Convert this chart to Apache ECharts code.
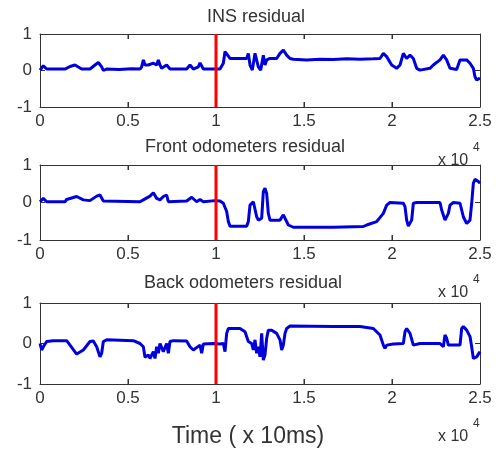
<!DOCTYPE html>
<html>
<head>
<meta charset="utf-8">
<script src="https://cdn.jsdelivr.net/npm/echarts@6/dist/echarts.min.js"></script>
<style>html,body{margin:0;padding:0;background:#fff;}#c{width:500px;height:456px;}</style>
</head>
<body>
<div id="c"></div>
<script>
// ---- data (time in samples, residual values) ----
var titles = ['INS residual', 'Front odometers residual', 'Back odometers residual'];
var xTicks = ['0', '0.5', '1', '1.5', '2', '2.5'];
var yTicks = ['-1', '0', '1'];
var xTickVals = [5000, 10000, 15000, 20000];
var yTickVals = [0];
var changeTime = 10000;

var insX = [0,189,379,1420,1705,1989,2367,2841,3125,3314,3504,3598,3788,4500,5200,5682,5777,5871,5966,6155,6440,6629,6724,6818,6913,7197,7386,8333,8523,8712,8996,9091,9280,9943,10227,10417,10511,10606,10795,11364,11742,11837,11932,12064,12216,12311,12405,12538,12689,12784,12879,13068,13447,13636,13826,14015,14205,14394,15152,15909,16667,17424,18182,18939,19318,19508,19697,19981,20265,20455,20644,20833,21023,21212,21402,21591,22159,22348,22727,22917,23106,23295,23674,23864,24242,24432,24621,24716,24811,25000];
var insY = [0.01,0.13,0.04,0.04,0.11,0.15,0.04,0.04,0.15,0.22,0.10,0.00,0.04,0.03,0.05,0.04,0.10,0.29,0.15,0.15,0.20,0.15,0.29,0.15,0.06,0.15,0.04,0.04,0.15,0.04,0.10,0.21,0.04,0.04,0.04,0.20,0.52,0.47,0.33,0.33,0.33,0.47,0.15,0.01,0.47,0.52,0.10,0.01,0.42,0.15,0.29,0.33,0.33,0.47,0.56,0.42,0.33,0.31,0.29,0.31,0.30,0.32,0.31,0.32,0.33,0.47,0.38,0.15,0.06,0.15,0.47,0.33,0.42,0.33,0.06,0.01,0.06,0.15,0.29,0.42,0.29,0.06,0.03,0.29,0.29,0.20,0.06,-0.17,-0.26,-0.21];

var frontX = [0,189,379,1420,1515,2083,2462,2841,3220,3409,3598,5682,5871,6250,6440,6629,6818,7008,7197,7292,8333,8617,8902,9091,9280,9943,10227,10417,10606,10701,10795,11742,11837,11932,12121,12216,12311,12405,12595,12689,12784,12879,12973,13068,13636,13826,13920,14110,14394,16667,18371,18561,19129,19508,19697,19886,20644,20739,20833,20928,21117,21212,21402,22727,22822,23011,23201,23295,23485,23864,24053,24242,24432,24527,24621,24716,24905,25000];
var frontY = [0.02,0.11,0.02,0.02,0.08,0.16,0.07,0.05,0.17,0.20,0.04,0.02,0.07,0.17,0.26,0.11,0.07,0.16,0.20,0.02,0.04,0.14,0.02,0.08,0.02,0.05,0.04,-0.02,-0.24,-0.51,-0.63,-0.63,-0.51,-0.07,0.02,-0.02,-0.38,-0.47,-0.42,0.29,0.38,0.24,-0.29,-0.47,-0.47,-0.33,-0.38,-0.60,-0.66,-0.66,-0.64,-0.60,-0.51,-0.29,-0.07,0.00,-0.02,-0.11,-0.47,-0.63,-0.47,-0.02,0.00,0.00,-0.20,-0.47,-0.29,-0.07,0.00,-0.02,-0.38,-0.56,-0.47,-0.02,0.51,0.62,0.56,0.51];

var backX = [0,95,189,379,758,1515,1705,2083,2462,2841,3030,3220,3409,3504,3598,3788,5303,5682,5871,5966,6155,6250,6440,6534,6629,6724,6818,7008,7197,7292,7386,7576,8333,8523,8712,9091,9186,9280,9848,10227,10417,10511,10606,10701,11364,11648,11837,12027,12121,12216,12311,12405,12500,12595,12689,12784,12879,12973,13163,13447,13636,13731,13826,13920,14015,14205,16667,18182,18939,19318,19508,19602,19697,20076,20644,20739,20833,21023,21117,21212,21591,22727,22917,23011,23106,23201,23864,23958,24053,24242,24432,24527,24621,24811,25000];
var backY = [0.00,-0.16,-0.08,0.05,0.07,0.07,-0.04,-0.26,-0.16,0.05,0.06,-0.08,-0.33,-0.24,0.05,0.09,0.07,0.00,-0.08,-0.34,-0.28,-0.37,-0.20,-0.37,-0.08,-0.24,0.00,-0.20,0.00,-0.24,0.05,0.07,0.06,-0.08,-0.16,-0.04,-0.24,-0.01,0.00,-0.01,0.00,-0.20,0.25,0.37,0.37,0.29,0.05,0.00,-0.16,0.09,-0.24,-0.08,-0.33,0.25,-0.41,-0.28,0.13,0.33,0.33,0.25,0.09,-0.16,-0.04,0.25,0.37,0.43,0.42,0.42,0.37,0.21,-0.04,-0.12,-0.04,-0.01,0.00,0.29,0.37,0.25,0.21,-0.04,0.00,0.00,-0.08,0.21,0.13,-0.04,-0.04,0.37,0.42,0.33,0.17,-0.08,-0.37,-0.33,-0.20];

var seriesX = [insX, frontX, backX];
var seriesY = [insY, frontY, backY];

// ---- layout ----
var FONT = 'Liberation Sans, Arial, sans-serif';
var TXT = '#333333';
var TICK_LEN = 5;
var grids = [
  {left: 40, top: 34, width: 440, height: 73},
  {left: 40, top: 165, width: 440, height: 75},
  {left: 40, top: 303, width: 440, height: 81}
];
var titlePos = [[256, 17], [245, 147], [243, 283]];
var expPos = [[438, 161], [438, 293], [438, 437]];

function zip(xs, ys) { return xs.map(function (x, i) { return [x, ys[i]]; }); }
function mkLine() { return {show: true, onZero: false, lineStyle: {color: '#333333', width: 1}}; }
function tickIn() { return {show: true, inside: true, length: TICK_LEN, lineStyle: {color: '#333333', width: 1}}; }
function seg(x1, y1, x2, y2) {
  return {type: 'line', shape: {x1: x1, y1: y1, x2: x2, y2: y2}, style: {stroke: '#333333', lineWidth: 1}};
}
// inner tick marks, placed through the axes' own scales
function renderXTick(params, api) {
  var v = api.value(0);
  var b = api.coord([v, -1]), t = api.coord([v, 1]);
  return {type: 'group', children: [seg(b[0], b[1], b[0], b[1] - TICK_LEN), seg(t[0], t[1], t[0], t[1] + TICK_LEN)]};
}
function renderYTick(params, api) {
  var v = api.value(1);
  var l = api.coord([0, v]), r = api.coord([25000, v]);
  return {type: 'group', children: [seg(l[0], l[1], l[0] + TICK_LEN, l[1]), seg(r[0], r[1], r[0] - TICK_LEN, r[1])]};
}

var option = {
  animation: false,
  grid: grids.map(function (g) {
    return {left: g.left, top: g.top, width: g.width, height: g.height, show: false};
  }),
  xAxis: [], yAxis: [], series: [], graphic: []
};

for (var i = 0; i < 3; i++) {
  option.xAxis.push({
    gridIndex: i, type: 'value', min: 0, max: 25000, interval: 5000, position: 'bottom',
    axisLine: mkLine(), splitLine: {show: false}, axisTick: tickIn(),
    axisLabel: {show: true, margin: 6, fontSize: 17, fontFamily: FONT, color: TXT,
      formatter: function (v) { return xTicks[Math.round(v / 5000)]; }}
  });
  option.xAxis.push({
    gridIndex: i, type: 'value', min: 0, max: 25000, interval: 5000, position: 'top',
    axisLine: mkLine(), splitLine: {show: false}, axisTick: tickIn(),
    axisLabel: {show: false}
  });
  option.yAxis.push({
    gridIndex: i, type: 'value', min: -1, max: 1, interval: 1, position: 'left',
    axisLine: mkLine(), splitLine: {show: false}, axisTick: tickIn(),
    axisLabel: {show: true, margin: 8, fontSize: 17, fontFamily: FONT, color: TXT,
      formatter: function (v) { return yTicks[Math.round(v) + 1]; }}
  });
  option.yAxis.push({
    gridIndex: i, type: 'value', min: -1, max: 1, interval: 1, position: 'right',
    axisLine: mkLine(), splitLine: {show: false}, axisTick: tickIn(),
    axisLabel: {show: false}
  });
  option.series.push({
    type: 'custom', xAxisIndex: 2 * i, yAxisIndex: 2 * i, z: 1, silent: true,
    data: xTickVals.map(function (v) { return [v, 0]; }), renderItem: renderXTick
  });
  option.series.push({
    type: 'custom', xAxisIndex: 2 * i, yAxisIndex: 2 * i, z: 1, silent: true,
    data: yTickVals.map(function (v) { return [0, v]; }), renderItem: renderYTick
  });
  option.series.push({
    type: 'line', xAxisIndex: 2 * i, yAxisIndex: 2 * i, data: zip(seriesX[i], seriesY[i]), z: 3,
    showSymbol: false, symbol: 'none', lineStyle: {color: '#0000dd', width: 3}
  });
  option.series.push({
    type: 'line', xAxisIndex: 2 * i, yAxisIndex: 2 * i, data: [[changeTime, -1], [changeTime, 1]], z: 4,
    showSymbol: false, symbol: 'none', lineStyle: {color: '#ff0000', width: 3}
  });
  option.graphic.push({
    type: 'text', x: titlePos[i][0], y: titlePos[i][1],
    style: {text: titles[i], font: '18px ' + FONT, fill: TXT, textAlign: 'center', textVerticalAlign: 'middle'}
  });
  option.graphic.push({
    type: 'text', x: expPos[i][0], y: expPos[i][1],
    style: {text: 'x 10', font: '16px ' + FONT, fill: TXT, textAlign: 'left', textVerticalAlign: 'middle'}
  });
  option.graphic.push({
    type: 'text', x: expPos[i][0] + 35, y: expPos[i][1] - 13,
    style: {text: '4', font: '12px ' + FONT, fill: TXT, textAlign: 'left', textVerticalAlign: 'middle'}
  });
}
option.graphic.push({
  type: 'text', x: 248, y: 437,
  style: {text: 'Time ( x 10ms)', font: '23px ' + FONT, fill: TXT, textAlign: 'center', textVerticalAlign: 'middle'}
});

var chart = echarts.init(document.getElementById('c'));
chart.setOption(option);
</script>
</body>
</html>
